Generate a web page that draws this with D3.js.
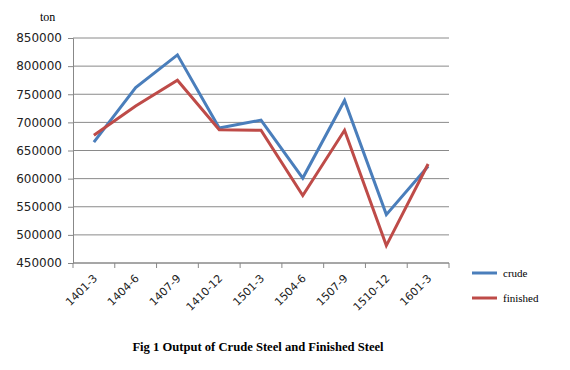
<!DOCTYPE html>
<html>
<head>
<meta charset="utf-8">
<script src="https://cdn.jsdelivr.net/npm/d3@7"></script>
<style>
  body { margin: 0; background: #fff; }
  .axis text { font-family: "DejaVu Sans", Verdana, sans-serif; font-size: 11px; fill: #222; }
  .axis path, .axis line { stroke: #888; }
</style>
</head>
<body>
<svg id="chart"></svg>
<script>
const periods = ["1401-3", "1404-6", "1407-9", "1410-12", "1501-3", "1504-6", "1507-9", "1510-12", "1601-3"];
const crude = [665000, 762000, 820000, 690000, 704000, 601000, 739000, 536000, 622000];
const finished = [677000, 729000, 775000, 687000, 686000, 570000, 686000, 481000, 626000];
const yTicks = [450000, 500000, 550000, 600000, 650000, 700000, 750000, 800000, 850000];
const seriesNames = ["crude", "finished"];
const seriesColors = ["#4a7ebb", "#be4b48"];

const width = 570, height = 370;
const margin = { top: 38, right: 121, bottom: 107, left: 73 };
const innerW = width - margin.left - margin.right;
const innerH = height - margin.top - margin.bottom;

const svg = d3.select("#chart").attr("width", width).attr("height", height);
const g = svg.append("g").attr("transform", `translate(${margin.left},${margin.top})`);

const x = d3.scaleBand().domain(periods).range([0, innerW]);
const y = d3.scaleLinear().domain([450000, 850000]).range([innerH, 0]);

// gridlines
g.append("g")
  .selectAll("line")
  .data(yTicks)
  .join("line")
  .attr("x1", 0)
  .attr("x2", innerW)
  .attr("y1", d => y(d))
  .attr("y2", d => y(d))
  .attr("stroke", "#8a8a8a")
  .attr("stroke-width", 1);

// y axis
const yAxisG = g.append("g")
  .attr("class", "axis")
  .call(d3.axisLeft(y).tickValues(yTicks).tickSize(5).tickPadding(6).tickFormat(d3.format("d")));
yAxisG.selectAll("text").style("font-size", "12px");

// x axis with ticks at band edges
const xAxisG = g.append("g")
  .attr("class", "axis")
  .attr("transform", `translate(0,${innerH})`);
xAxisG.append("line").attr("x1", 0).attr("x2", innerW).attr("stroke", "#888");
xAxisG.selectAll(".edge")
  .data(periods.concat(["end"]))
  .join("line")
  .attr("class", "edge")
  .attr("x1", (d, i) => i * x.step())
  .attr("x2", (d, i) => i * x.step())
  .attr("y1", 0)
  .attr("y2", 5)
  .attr("stroke", "#888");
xAxisG.selectAll(".lab")
  .data(periods)
  .join("text")
  .attr("class", "lab")
  .attr("text-anchor", "end")
  .attr("transform", d => `translate(${x(d) + x.bandwidth() / 2 + 4},${16}) rotate(-45)`)
  .text(d => d);

// lines
const line = d3.line()
  .x((d, i) => x(periods[i]) + x.bandwidth() / 2)
  .y(d => y(d));

[crude, finished].forEach((vals, k) => {
  g.append("path")
    .datum(vals)
    .attr("fill", "none")
    .attr("stroke", seriesColors[k])
    .attr("stroke-width", 3)
    .attr("stroke-linejoin", "miter")
    .attr("d", line);
});

// unit label
svg.append("text")
  .attr("x", 40)
  .attr("y", 21)
  .style("font-family", "'Liberation Serif', 'Times New Roman', serif")
  .style("font-size", "12px")
  .text("ton");

// legend
const legend = svg.append("g").attr("transform", "translate(472,273)");
seriesNames.forEach((name, i) => {
  legend.append("line")
    .attr("x1", 0).attr("x2", 25)
    .attr("y1", i * 25).attr("y2", i * 25)
    .attr("stroke", seriesColors[i])
    .attr("stroke-width", 3);
  legend.append("text")
    .attr("x", 31)
    .attr("y", i * 25 + 4)
    .style("font-family", "'Liberation Serif', 'Times New Roman', serif")
    .style("font-size", "11px")
    .text(name);
});

// title
svg.append("text")
  .attr("x", 258)
  .attr("y", 351)
  .attr("text-anchor", "middle")
  .style("font-family", "'Liberation Serif', 'Times New Roman', serif")
  .style("font-size", "12.6px")
  .style("font-weight", "bold")
  .text("Fig 1 Output of Crude Steel and Finished Steel");
</script>
</body>
</html>
